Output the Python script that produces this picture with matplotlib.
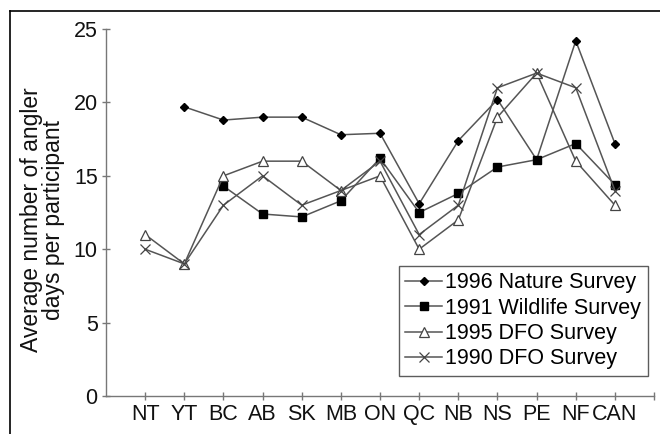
import matplotlib
matplotlib.use("Agg")
from matplotlib import pyplot as plt
from matplotlib.lines import Line2D
import numpy as np

provinces = ["NT", "YT", "BC", "AB", "SK", "MB", "ON", "QC", "NB", "NS", "PE", "NF", "CAN"]

nature_1996 = [np.nan, 19.7, 18.8, 19.0, 19.0, 17.8, 17.9, 13.1, 17.4, 20.2, 16.1, 24.2, 17.2]
wildlife_1991 = [np.nan, np.nan, 14.3, 12.4, 12.2, 13.3, 16.2, 12.5, 13.8, 15.6, 16.1, 17.2, 14.4]
dfo_1995 = [11, 9, 15, 16, 16, 14, 15, 10, 12, 19, 22, 16, 13]
dfo_1990 = [10, 9, 13, 15, 13, 14, 16, 11, 13, 21, 22, 21, 14]

plt.rcParams["font.family"] = ["Liberation Sans", "DejaVu Sans"]

fig = plt.figure(figsize=(6.6, 4.34), dpi=100)
ax = fig.add_axes([0.1606, 0.0876, 0.8304, 0.8454])

x = np.arange(1, len(provinces) + 1)
line_col = "#555555"

ax.plot(x, nature_1996, color=line_col, lw=1.1, marker="D", ms=4.5,
        mfc="black", mec="black", label="1996 Nature Survey")
ax.plot(x, wildlife_1991, color=line_col, lw=1.1, marker="s", ms=5.2,
        mfc="black", mec="black", label="1991 Wildlife Survey")
ax.plot(x, dfo_1995, color=line_col, lw=1.1, marker="^", ms=7,
        mfc="white", mec="#444444", mew=0.9, label="1995 DFO Survey")
ax.plot(x, dfo_1990, color=line_col, lw=1.1, marker="x", ms=7,
        mec="#444444", mew=0.9, label="1990 DFO Survey")

ax.set_xlim(0, 14)
ax.set_ylim(0, 25)
ax.set_xticks(list(x) + [14])
ax.set_xticklabels(provinces + [""])
ax.set_yticks([0, 5, 10, 15, 20, 25])

for side in ["top", "right"]:
    ax.spines[side].set_visible(False)
for side in ["left", "bottom"]:
    ax.spines[side].set_color("#777777")
    ax.spines[side].set_linewidth(1.0)

ax.tick_params(axis="both", direction="inout", length=6, width=1.0,
               color="#777777", labelsize=15.5, labelcolor="#111111", pad=3)

ax.set_ylabel("Average number of angler\ndays per participant", fontsize=16.5,
              color="#111111", linespacing=0.92)
ax.yaxis.set_label_coords(-0.075, 0.48)

leg = ax.legend(loc="upper left", bbox_to_anchor=(399 / 660, 1 - 266 / 434),
                bbox_transform=fig.transFigure, fontsize=15.5, frameon=True,
                fancybox=False, edgecolor="#333333", handlelength=1.7,
                handletextpad=0.15, labelspacing=0.2, borderpad=0.3,
                borderaxespad=0)
leg.get_frame().set_linewidth(1.0)

# outer frame of the original figure (left and top edges only)
fig.add_artist(Line2D([10 / 660, 10 / 660], [0, 1 - 11 / 434], transform=fig.transFigure,
                      color="black", lw=1.2))
fig.add_artist(Line2D([10 / 660, 1], [1 - 11 / 434, 1 - 11 / 434], transform=fig.transFigure,
                      color="black", lw=1.2))

plt.savefig("out.png", dpi=100)
